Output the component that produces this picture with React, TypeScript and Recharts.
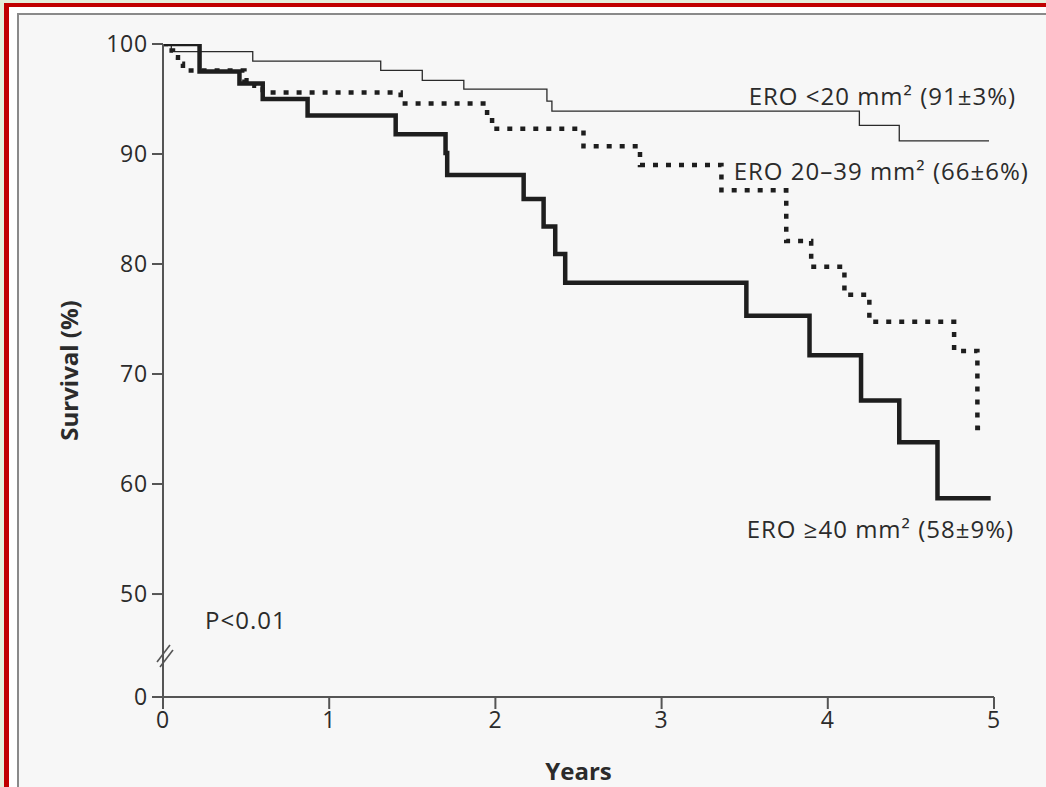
import React from "react";
import {
  LineChart,
  Line,
  XAxis,
  YAxis,
  ReferenceLine,
  ReferenceDot,
} from "recharts";

// ERO <20 mm2
const lowYears = [0, 0.05, 0.54, 1.31, 1.56, 1.81, 2.31, 2.34, 4.19, 4.43, 4.97];
const lowSurvival = [100, 99.3, 98.45, 97.6, 96.7, 95.9, 94.8, 93.9, 92.6, 91.2, 91.2];

// ERO 20-39 mm2
const midYears = [0, 0.03, 0.06, 0.09, 0.12, 0.49, 0.55, 0.6, 1.43, 1.95, 1.98, 2.53, 2.87, 3.36, 3.75, 3.9, 4.1, 4.25, 4.76, 4.9, 4.95];
const midSurvival = [100, 99.4, 98.8, 98.2, 97.6, 96.7, 96.2, 95.6, 94.6, 93.3, 92.3, 90.7, 89.0, 86.7, 82.1, 79.75, 77.2, 74.75, 72.1, 65.1, 65.1];

// ERO >=40 mm2
const highYears = [0, 0.22, 0.46, 0.6, 0.87, 1.4, 1.7, 1.71, 2.17, 2.29, 2.36, 2.42, 3.51, 3.89, 4.2, 4.43, 4.66, 4.98];
const highSurvival = [100, 97.5, 96.4, 95.0, 93.5, 91.8, 90.1, 88.1, 85.9, 83.4, 80.9, 78.3, 75.3, 71.7, 67.6, 63.8, 58.7, 58.7];

const xTicks = [0, 1, 2, 3, 4, 5];
// the axis is broken between 0 and 50, so "0" sits just below 50
const ZERO_POS = 40.64;
const yTicks = [ZERO_POS, 50, 60, 70, 80, 90, 100];
const yTickLabels = ["0", "50", "60", "70", "80", "90", "100"];

const seriesLabels = [
  "ERO <20 mm\u00b2 (91\u00b13%)",
  "ERO 20\u201339 mm\u00b2 (66\u00b16%)",
  "ERO \u226540 mm\u00b2 (58\u00b19%)",
];
const pLabel = "P<0.01";

const toPoints = (xs: number[], ys: number[]) =>
  xs.map((t, i) => ({ t, s: ys[i] }));

const FONT = "'Open Sans', sans-serif";
const TEXT = "#2b2b2b";
const AXIS = "#555555";

export default function App() {
  const low = toPoints(lowYears, lowSurvival);
  const mid = toPoints(midYears, midSurvival);
  const high = toPoints(highYears, highSurvival);

  // label anchors (left edge, vertical centre) in data units
  const labelPos = [
    { x: 3.524, y: 95.2 },
    { x: 3.434, y: 88.45 },
    { x: 3.512, y: 55.9 },
  ];

  // the two "//" strokes on the y axis
  const breakMarks = [
    [-0.036, 43.82, 0.042, 45.36],
    [-0.018, 43.36, 0.06, 44.91],
  ];

  const txt = {
    fontFamily: FONT,
    fontSize: 24,
    fill: TEXT,
    style: { letterSpacing: 1 },
  };
  const tickTxt = {
    fontFamily: FONT,
    fontSize: 23,
    fill: TEXT,
    style: { letterSpacing: 0.8 },
  };

  return (
    <div
      style={{
        position: "absolute",
        left: 0,
        top: 0,
        width: 1046,
        height: 787,
        overflow: "hidden",
        background: "#e4eedb",
      }}
    >
      <div
        style={{
          position: "absolute",
          left: 4,
          top: 3,
          width: 1100,
          height: 900,
          background: "#ffffff",
          borderLeft: "5px solid #c00000",
          borderTop: "4px solid #c00000",
        }}
      />
      <div
        style={{
          position: "absolute",
          left: 17,
          top: 13,
          width: 1100,
          height: 900,
          background: "#f7f7f7",
          borderLeft: "2px solid #8a8a8a",
          borderTop: "2px solid #8a8a8a",
        }}
      />
      <div style={{ position: "absolute", left: 0, top: 0 }}>
        <LineChart
          width={1046}
          height={787}
          margin={{ top: 44, right: 52, bottom: 0, left: 0 }}
        >
          <XAxis
            type="number"
            dataKey="t"
            domain={[0, 5]}
            ticks={xTicks}
            allowDataOverflow
            height={90}
            stroke={AXIS}
            strokeWidth={2}
            tickSize={12}
            tickMargin={3}
            tick={tickTxt}
            label={{
              value: "Years",
              position: "insideBottom",
              offset: 7,
              style: { fontFamily: FONT, fontSize: 24, fontWeight: 700, fill: TEXT },
            }}
          />
          <YAxis
            type="number"
            dataKey="s"
            domain={[ZERO_POS, 100]}
            ticks={yTicks}
            allowDataOverflow
            width={163}
            stroke={AXIS}
            strokeWidth={2}
            tickSize={11}
            tickMargin={4}
            tick={tickTxt}
            tickFormatter={(v: number) => yTickLabels[yTicks.indexOf(v)] ?? ""}
            label={{
              value: "Survival (%)",
              angle: -90,
              position: "insideLeft",
              offset: 69,
              style: {
                fontFamily: FONT,
                fontSize: 24,
                fontWeight: 700,
                fill: TEXT,
                textAnchor: "middle",
              },
            }}
          />
          {breakMarks.map((m, i) => (
            <ReferenceLine
              key={i}
              segment={[
                { x: m[0], y: m[1] },
                { x: m[2], y: m[3] },
              ]}
              stroke={AXIS}
              strokeWidth={1.6}
              ifOverflow="visible"
            />
          ))}
          <Line
            data={low}
            dataKey="s"
            type="stepAfter"
            stroke="#2a2a2a"
            strokeWidth={1.3}
            dot={false}
            isAnimationActive={false}
          />
          <Line
            data={mid}
            dataKey="s"
            type="stepAfter"
            stroke="#1e1e1e"
            strokeWidth={4.5}
            strokeDasharray="5 8"
            dot={false}
            isAnimationActive={false}
          />
          <Line
            data={high}
            dataKey="s"
            type="stepAfter"
            stroke="#1e1e1e"
            strokeWidth={4.5}
            dot={false}
            isAnimationActive={false}
          />
          {seriesLabels.map((lab, i) => (
            <ReferenceDot
              key={lab}
              x={labelPos[i].x}
              y={labelPos[i].y}
              r={0}
              fill="none"
              stroke="none"
              ifOverflow="visible"
              label={{ value: lab, position: "right", offset: 0, ...txt }}
            />
          ))}
          <ReferenceDot
            x={0.253}
            y={47.64}
            r={0}
            fill="none"
            stroke="none"
            label={{ value: pLabel, position: "right", offset: 0, ...txt }}
          />
        </LineChart>
      </div>
    </div>
  );
}
